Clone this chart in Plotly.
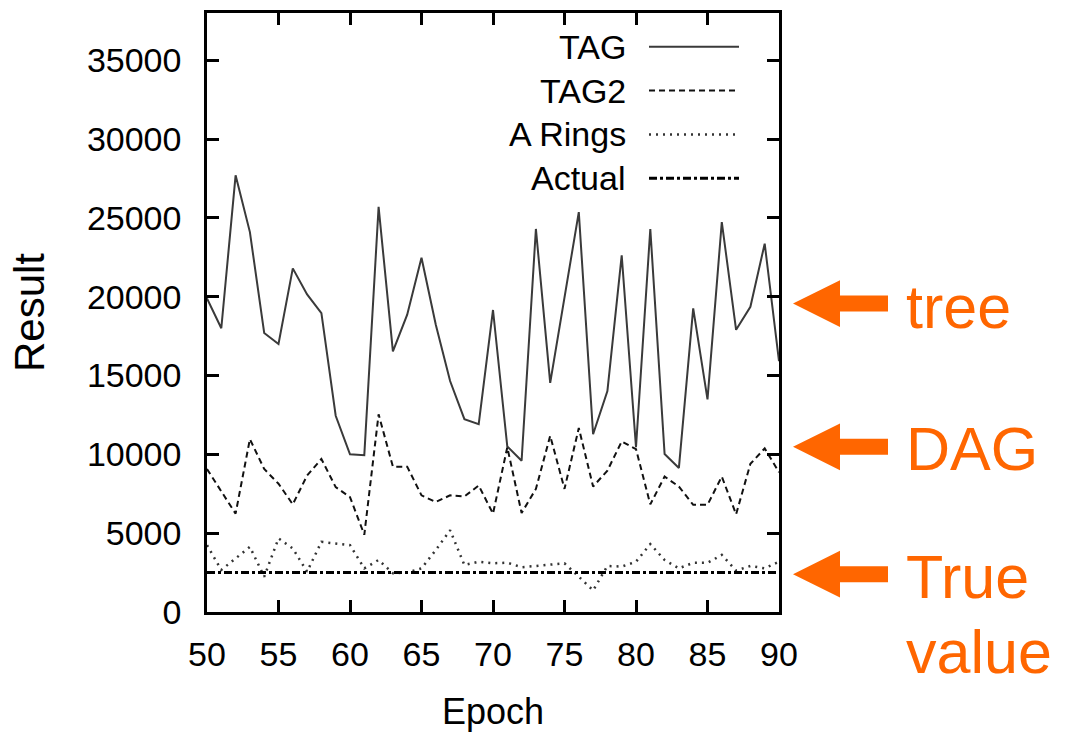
import plotly.graph_objects as go

epochs = list(range(50, 91))

tag = [19900, 18000, 27700, 24100, 17700, 17000, 21800, 20150, 18960, 12450,
       10000, 9950, 25700, 16540, 18860, 22470, 18220, 14650, 12230, 11920,
       19160, 10500, 9600, 24300, 14540, 19900, 25370, 11280, 14020, 22630,
       10450, 24300, 10020, 9140, 19260, 13490, 24740, 17900, 19360, 23370, 15910]

tag2 = [9070, 7660, 6240, 10970, 9070, 8140, 6830, 8660, 9710, 7920,
        7290, 4900, 12540, 9220, 9220, 7400, 6980, 7400, 7330, 8020,
        6240, 10450, 6280, 7810, 11180, 7810, 11670, 7960, 8970, 10820,
        10330, 6830, 8590, 7960, 6800, 6800, 8590, 6200, 9400, 10380, 8870]

a_rings = [4240, 2670, 3400, 4130, 2240, 4670, 4030, 2560, 4450, 4350,
           4240, 2770, 3300, 2460, 2500, 2770, 3930, 5190, 2980, 3190,
           3090, 3130, 2840, 2920, 3020, 3090, 2240, 1370, 2920, 2880,
           3190, 4310, 3300, 2770, 3120, 3120, 3620, 2630, 2920, 2770, 3190]

actual_value = 2500
actual = [actual_value] * len(epochs)

series_names = ["TAG", "TAG2", "A Rings", "Actual"]
x_ticks = [50, 55, 60, 65, 70, 75, 80, 85, 90]
y_ticks = [0, 5000, 10000, 15000, 20000, 25000, 30000, 35000]
callouts = ["tree", "DAG", "True", "value"]

W, H = 1074, 748
L, R, T, B = 207, 295, 10, 136
PW, PH = W - L - R, H - T - B

def px(x):
    return (x - L) / PW

def py(y):
    return (H - B - y) / PH

SANS = "Liberation Sans, Arial, Helvetica, sans-serif"
ORANGE = "#FF6600"

styles = [
    dict(color="#3a3a3a", width=2, dash="solid"),
    dict(color="#111111", width=2, dash="6px,4px"),
    dict(color="#333333", width=2.5, dash="2px,5px"),
    dict(color="#000000", width=3, dash="8px,3px,3px,3px"),
]

fig = go.Figure()
for name, vals, st in zip(series_names, [tag, tag2, a_rings, actual], styles):
    fig.add_trace(go.Scatter(x=epochs, y=vals, mode="lines", name=name,
                             line=st, showlegend=False))

shapes = []
annotations = []

# custom legend (text on the left, sample on the right, like gnuplot)
leg_y = [44, 88, 132, 176]
for name, st, yy in zip(series_names, styles, leg_y):
    annotations.append(dict(xref="paper", yref="paper", x=px(628), y=py(yy),
                            xanchor="right", yanchor="middle", text=name,
                            showarrow=False,
                            font=dict(family=SANS, size=34, color="black")))
    shapes.append(dict(type="line", xref="paper", yref="paper",
                       x0=px(649), x1=px(739), y0=py(yy), y1=py(yy),
                       line=st))

# orange arrows and callout texts
def arrow(ty):
    pts = [(793, ty), (840, ty - 23.5), (840, ty - 8), (888, ty - 8),
           (888, ty + 8), (840, ty + 8), (840, ty + 23.5)]
    d = "M " + " L ".join(f"{px(a):.5f},{py(b):.5f}" for a, b in pts) + " Z"
    return dict(type="path", xref="paper", yref="paper", path=d,
                fillcolor=ORANGE, line=dict(color=ORANGE, width=0))

for ty in [302, 446, 574]:
    shapes.append(arrow(ty))

for txt, cy in zip(callouts, [305, 448, 577, 652]):
    annotations.append(dict(xref="paper", yref="paper", x=px(904), y=py(cy),
                            xanchor="left", yanchor="middle", text=txt,
                            showarrow=False,
                            font=dict(family=SANS, size=61, color=ORANGE)))

axis_common = dict(showline=True, linecolor="black", linewidth=2.5,
                   mirror="ticks", ticks="inside", ticklen=12,
                   tickwidth=2.5, tickcolor="black", showgrid=False,
                   zeroline=False,
                   tickfont=dict(family=SANS, size=34, color="black"))

fig.update_layout(
    width=W, height=H,
    margin=dict(l=L, r=R, t=T, b=B),
    paper_bgcolor="white", plot_bgcolor="white",
    shapes=shapes, annotations=annotations,
    xaxis=dict(range=[50, 90], tickvals=x_ticks,
               ticktext=[str(v) for v in x_ticks],
               ticklabelstandoff=10,
               title=dict(text="Epoch", standoff=28,
                          font=dict(family=SANS, size=36, color="black")),
               **axis_common),
    yaxis=dict(range=[0, 38000], tickvals=y_ticks,
               ticktext=[str(v) for v in y_ticks],
               ticklabelstandoff=16,
               title=dict(text="Result", standoff=30,
                          font=dict(family=SANS, size=42, color="black")),
               **axis_common),
)

fig.write_html("out.html")
